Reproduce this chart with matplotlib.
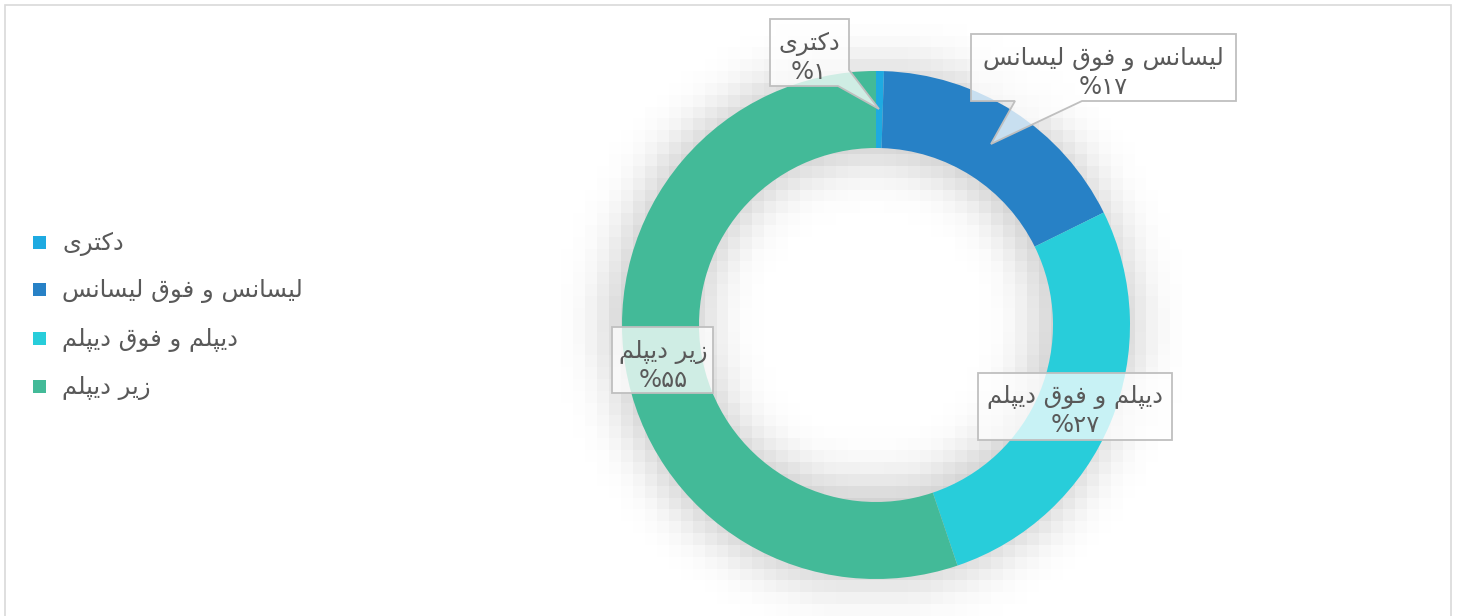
import numpy as np
import matplotlib
matplotlib.use("Agg")
import matplotlib.pyplot as plt
from matplotlib.patches import Polygon, Rectangle

# data
categories = ["دکتری", "لیسانس و فوق لیسانس", "دیپلم و فوق دیپلم", "زیر دیپلم"]
shares = [0.5, 17.2, 27.1, 55.2]
percent_labels = [1, 17, 27, 55]
colors = ["#1EAAE1", "#2781C6", "#28CDDA", "#43BA98"]

W, H = 1457, 616
TEXT = "#595959"
FS = 17.5

# tiny arabic shaper (matplotlib draws no joined arabic by itself)
FORMS = {
    "ا": ("\uFE8D", "\uFE8E", None, None),
    "د": ("\uFEA9", "\uFEAA", None, None),
    "ر": ("\uFEAD", "\uFEAE", None, None),
    "ز": ("\uFEAF", "\uFEB0", None, None),
    "و": ("\uFEED", "\uFEEE", None, None),
    "ت": ("\uFE95", "\uFE96", "\uFE97", "\uFE98"),
    "س": ("\uFEB1", "\uFEB2", "\uFEB3", "\uFEB4"),
    "ف": ("\uFED1", "\uFED2", "\uFED3", "\uFED4"),
    "ق": ("\uFED5", "\uFED6", "\uFED7", "\uFED8"),
    "ل": ("\uFEDD", "\uFEDE", "\uFEDF", "\uFEE0"),
    "م": ("\uFEE1", "\uFEE2", "\uFEE3", "\uFEE4"),
    "ن": ("\uFEE5", "\uFEE6", "\uFEE7", "\uFEE8"),
    "ی": ("\uFBFC", "\uFBFD", "\uFBFE", "\uFBFF"),
    "ک": ("\uFB8E", "\uFB8F", "\uFB90", "\uFB91"),
    "پ": ("\uFB56", "\uFB57", "\uFB58", "\uFB59"),
}


def shape(s):
    out = []
    for i, c in enumerate(s):
        if c not in FORMS:
            out.append(c)
            continue
        prev = s[i - 1] if i > 0 else " "
        nxt = s[i + 1] if i < len(s) - 1 else " "
        jp = prev in FORMS and FORMS[prev][2] is not None
        jn = FORMS[c][2] is not None and nxt in FORMS
        f = FORMS[c]
        if jp and jn:
            out.append(f[3])
        elif jp:
            out.append(f[1])
        elif jn:
            out.append(f[2])
        else:
            out.append(f[0])
    return "".join(out[::-1])


def fa_pct(n):
    return "%" + "".join(chr(0x06F0 + int(d)) for d in str(n))


fig = plt.figure(figsize=(W / 100, H / 100), dpi=100)
ax = fig.add_axes([0, 0, 1, 1])

cx, cy, R, ring = 876, H - 325, 254, 77

# blocky soft shadow behind the ring
step = 12
xs = np.arange(0, W, step) + step / 2
ys = np.arange(0, H, step) + step / 2
gx, gy = np.meshgrid(xs, ys)
dist = np.hypot(gx - cx, (H - gy) - cy + 4)
mask = ((dist < R + 8) & (dist > R - ring - 8)).astype(float)
k = np.exp(-0.5 * (np.arange(-7, 8) / 2.0) ** 2)
k /= k.sum()
blur = np.apply_along_axis(lambda r: np.convolve(r, k, mode="same"), 1, mask)
blur = np.apply_along_axis(lambda c: np.convolve(c, k, mode="same"), 0, blur)
rgba = np.zeros(blur.shape + (4,))
rgba[..., :3] = 0.35
rgba[..., 3] = np.clip(blur * 0.34, 0, 1)
ax.imshow(rgba, extent=(0, W, 0, H), origin="upper", interpolation="nearest", zorder=0)

ax.pie(shares, colors=colors, startangle=90, counterclock=False, radius=R,
       center=(cx, cy), wedgeprops=dict(width=ring, linewidth=0), frame=True)
ax.set_xlim(0, W)
ax.set_ylim(0, H)
ax.axis("off")

# outer frame
ax.add_patch(Rectangle((5, -5), W - 11, H, fill=False, ec="#D9D9D9", lw=1.2, zorder=1))

# data label boxes (callouts), pixel coords from top
boxes = [
    dict(poly=[(770, 19), (849, 19), (849, 70), (879, 109), (838, 86), (770, 86)], c=(809, 58)),
    dict(poly=[(971, 34), (1236, 34), (1236, 101), (1082, 101), (991, 144), (1015, 101), (971, 101)], c=(1103, 73)),
    dict(poly=[(978, 373), (1172, 373), (1172, 440), (978, 440)], c=(1075, 411)),
    dict(poly=[(612, 327), (713, 327), (713, 393), (612, 393)], c=(663, 366)),
]
for b, name, p in zip(boxes, categories, percent_labels):
    pts = [(x, H - y) for x, y in b["poly"]]
    ax.add_patch(Polygon(pts, closed=True, fc=(1, 1, 1, 0.75), ec="#BFBFBF", lw=1.3, zorder=5))
    x, y = b["c"]
    ax.text(x, H - y + 14, shape(name), ha="center", va="center", fontsize=FS,
            color=TEXT, fontfamily="DejaVu Sans", zorder=6)
    ax.text(x, H - y - 14, fa_pct(p), ha="center", va="center", fontsize=FS,
            color=TEXT, fontfamily="DejaVu Sans", zorder=6)

# legend
leg_y = [242, 289, 338, 386]
for name, col, y in zip(categories, colors, leg_y):
    ax.add_patch(Rectangle((33, H - y - 7), 13, 13, fc=col, ec="none", zorder=5))
    ax.text(62, H - y - 2, shape(name), ha="left", va="center", fontsize=FS,
            color=TEXT, fontfamily="DejaVu Sans", zorder=6)

fig.savefig("out.png", dpi=100)
